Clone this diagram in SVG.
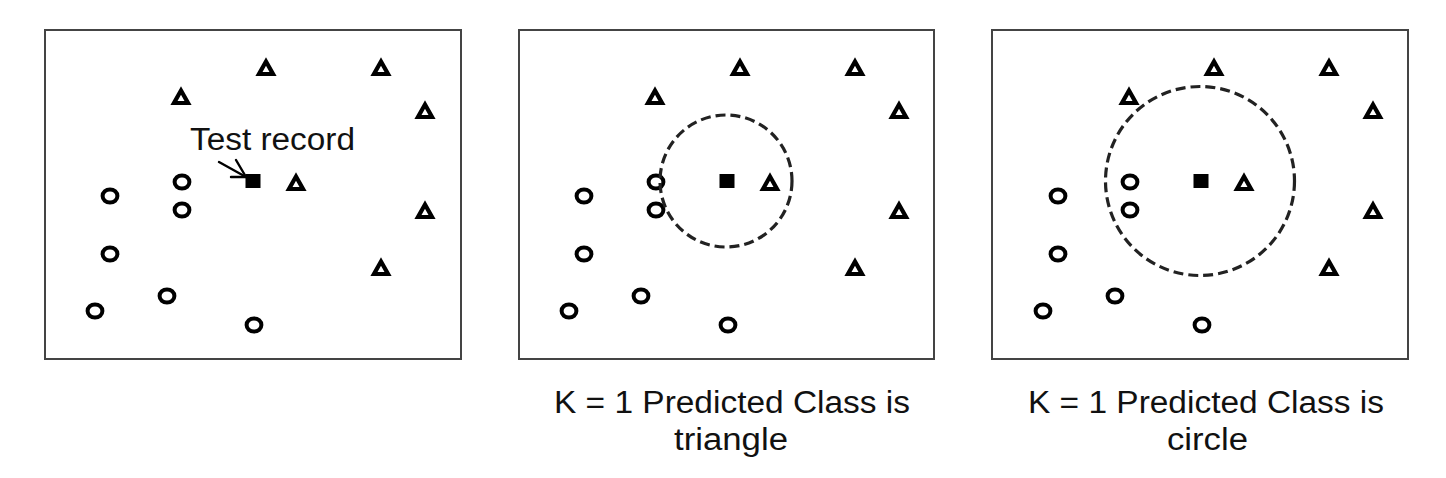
<svg xmlns="http://www.w3.org/2000/svg" xmlns:xlink="http://www.w3.org/1999/xlink" width="1446" height="478" viewBox="0 0 1446 478">
<style>
.frame{fill:#fff;stroke:#444;stroke-width:2}
.c{fill:none;stroke:#000;stroke-width:4}
.t{fill:none;stroke:#000;stroke-width:4.2;stroke-linejoin:miter}
.sq{fill:#000}
.nb{fill:none;stroke:#222;stroke-width:3.2;stroke-dasharray:10 5}
.lbl{font-family:"Liberation Sans",Arial,sans-serif;font-size:31px;fill:#111}
</style>
<defs>
<path id="tri" class="t" d="M0,-6.5 L7,6 L-7,6 Z"/>
<ellipse id="cir" class="c" rx="7.4" ry="6.6"/>
<rect id="sq" class="sq" x="-7.5" y="-7" width="15" height="14"/>
<g id="pts">
<use href="#tri" x="266" y="68"/>
<use href="#tri" x="381" y="68"/>
<use href="#tri" x="181" y="97"/>
<use href="#tri" x="425" y="111"/>
<use href="#tri" x="296" y="183"/>
<use href="#tri" x="425" y="211"/>
<use href="#tri" x="381" y="268"/>
<use href="#cir" x="110" y="196"/>
<use href="#cir" x="182" y="182"/>
<use href="#cir" x="182" y="210"/>
<use href="#cir" x="110" y="254"/>
<use href="#cir" x="167" y="296"/>
<use href="#cir" x="95" y="311"/>
<use href="#cir" x="254" y="325"/>
<use href="#sq" x="253" y="181"/>
</g>
</defs>
<g id="panel1">
<rect class="frame" x="45" y="30" width="416" height="329"/>
<use href="#pts"/>
<text class="lbl" x="190" y="150" textLength="165" lengthAdjust="spacingAndGlyphs">Test record</text>
<g fill="none" stroke="#000" stroke-width="2.4" stroke-linecap="round">
<path d="M219,162 L246,177"/>
<path d="M236,160 L246,177 L231,177"/>
</g>
</g>
<g id="panel2">
<rect class="frame" x="519" y="30" width="415" height="329"/>
<use href="#pts" x="474"/>
<circle class="nb" cx="726" cy="181" r="66"/>
<text class="lbl" x="554" y="413" textLength="356" lengthAdjust="spacingAndGlyphs">K = 1 Predicted Class is</text>
<text class="lbl" x="674" y="450" textLength="114" lengthAdjust="spacingAndGlyphs">triangle</text>
</g>
<g id="panel3">
<rect class="frame" x="992" y="30" width="416" height="329"/>
<use href="#pts" x="948"/>
<circle class="nb" cx="1200" cy="181" r="94.5"/>
<text class="lbl" x="1028" y="413" textLength="356" lengthAdjust="spacingAndGlyphs">K = 1 Predicted Class is</text>
<text class="lbl" x="1167" y="450" textLength="81" lengthAdjust="spacingAndGlyphs">circle</text>
</g>
</svg>
